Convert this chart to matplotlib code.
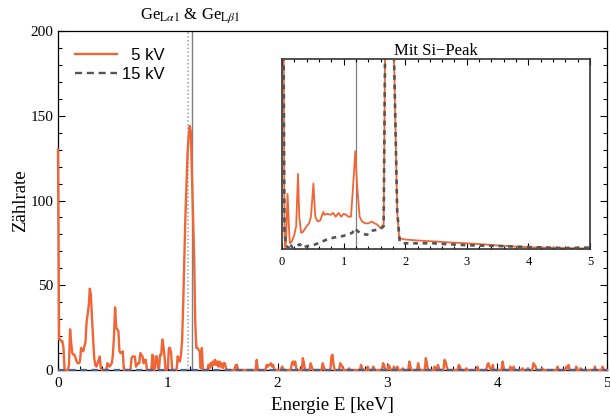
import matplotlib
matplotlib.use("Agg")
import matplotlib.pyplot as plt
from matplotlib.lines import Line2D
from matplotlib.ticker import MultipleLocator, FuncFormatter

plt.rcParams['font.family'] = ['Liberation Serif', 'DejaVu Serif']
plt.rcParams['mathtext.fontset'] = 'stix'

# -----------------------
# Data
# -----------------------
# main spectrum, 5 kV, counts per bin
main_e = [
    0.00, 0.01, 0.02, 0.03, 0.04, 0.05, 0.06, 0.07, 0.08, 0.09,
    0.10, 0.11, 0.12, 0.13, 0.14, 0.15, 0.16, 0.17, 0.18, 0.19,
    0.20, 0.21, 0.22, 0.23, 0.24, 0.25, 0.26, 0.27, 0.28, 0.29,
    0.30, 0.31, 0.32, 0.33, 0.34, 0.35, 0.36, 0.37, 0.38, 0.39,
    0.40, 0.44, 0.45, 0.46, 0.47, 0.48, 0.49, 0.50, 0.51, 0.52,
    0.53, 0.54, 0.55, 0.56, 0.57, 0.58, 0.59, 0.60, 0.66, 0.67,
    0.68, 0.69, 0.70, 0.71, 0.72, 0.73, 0.74, 0.75, 0.76, 0.77,
    0.78, 0.79, 0.80, 0.81, 0.85, 0.86, 0.87, 0.88, 0.89, 0.90,
    0.91, 0.92, 0.93, 0.94, 0.95, 0.96, 0.97, 0.98, 0.99, 1.00,
    1.01, 1.02, 1.03, 1.04, 1.08, 1.09, 1.10, 1.11, 1.12, 1.13,
    1.14, 1.15, 1.16, 1.17, 1.18, 1.19, 1.20, 1.21, 1.22, 1.23,
    1.24, 1.25, 1.26, 1.27, 1.28, 1.29, 1.30, 1.31, 1.32, 1.36,
    1.37, 1.38, 1.39, 1.40, 1.41, 1.42, 1.43, 1.44, 1.45, 1.46,
    1.47, 1.48, 1.49, 1.50, 1.51, 1.52, 1.53, 1.54, 1.61, 1.62,
    1.63, 1.64, 1.80, 1.81, 1.82, 1.89, 1.90, 1.91, 1.92, 1.93,
    1.94, 1.95, 1.96, 1.97, 2.03, 2.04, 2.05, 2.06, 2.12, 2.13,
    2.14, 2.15, 2.16, 2.17, 2.18, 2.22, 2.23, 2.24, 2.25, 2.29,
    2.30, 2.31, 2.32, 2.40, 2.41, 2.42, 2.43, 2.48, 2.49, 2.50,
    2.51, 2.52, 2.56, 2.57, 2.58, 2.59, 2.60, 2.64, 2.65, 2.66,
    2.75, 2.76, 2.77, 2.78, 2.81, 2.82, 2.83, 2.86, 2.87, 2.88,
    2.89, 2.95, 2.96, 2.97, 2.98, 3.00, 3.01, 3.02, 3.03, 3.05,
    3.06, 3.07, 3.08, 3.09, 3.10, 3.13, 3.14, 3.15, 3.19, 3.20,
    3.21, 3.22, 3.27, 3.28, 3.29, 3.30, 3.34, 3.35, 3.36, 3.37,
    3.42, 3.43, 3.44, 3.45, 3.46, 3.47, 3.48, 3.51, 3.52, 3.53,
    3.54, 3.55, 3.64, 3.65, 3.66, 3.67, 3.71, 3.72, 3.73, 3.81,
    3.82, 3.83, 3.90, 3.91, 3.92, 3.93, 3.94, 3.95, 3.96, 3.97,
    4.04, 4.05, 4.06, 4.07, 4.11, 4.12, 4.13, 4.14, 4.15, 4.16,
    4.22, 4.23, 4.24, 4.27, 4.28, 4.29, 4.32, 4.33, 4.34, 4.35,
    4.36, 4.40, 4.41, 4.42, 4.54, 4.55, 4.56, 4.62, 4.63, 4.64,
    4.65, 4.66, 4.71, 4.72, 4.73, 4.75, 4.76, 4.77, 4.88, 4.89,
    4.90, 4.95, 4.96, 4.97, 5.00,
]
main_5kv = [
    130, 18, 18, 17, 17, 13, 0, 0, 0, 0,
    3, 24, 16, 10, 9, 9, 7, 5, 4, 4,
    5, 13, 12, 11, 14, 16, 28, 33, 38, 48,
    44, 30, 18, 7, 3, 2, 4, 6, 8, 1,
    0, 0, 4, 3, 2, 3, 4, 9, 20, 37,
    25, 24, 23, 11, 10, 10, 11, 0, 0, 7,
    8, 8, 8, 2, 3, 4, 4, 10, 9, 8,
    4, 6, 6, 0, 0, 9, 0, 0, 8, 8,
    1, 1, 9, 9, 18, 14, 8, 0, 0, 1,
    13, 13, 10, 0, 0, 8, 6, 5, 9, 17,
    38, 65, 90, 110, 128, 138, 144, 140, 115, 90,
    66, 28, 13, 13, 12, 11, 1, 13, 0, 0,
    3, 1, 4, 2, 5, 3, 6, 3, 5, 2,
    5, 2, 4, 1, 4, 4, 1, 0, 0, 3,
    3, 0, 0, 6, 0, 0, 3, 2, 3, 3,
    4, 2, 3, 0, 0, 2, 1, 0, 0, 4,
    5, 3, 5, 1, 0, 0, 7, 4, 0, 0,
    4, 2, 0, 0, 4, 2, 0, 0, 8, 9,
    3, 0, 0, 4, 3, 2, 0, 0, 1, 0,
    0, 3, 1, 0, 0, 2, 0, 0, 2, 1,
    0, 0, 4, 3, 0, 0, 3, 2, 0, 0,
    2, 0, 0, 2, 0, 0, 1, 0, 0, 5,
    2, 0, 0, 4, 1, 0, 0, 7, 4, 0,
    0, 2, 0, 0, 3, 1, 0, 0, 6, 5,
    2, 0, 0, 3, 2, 0, 0, 1, 0, 0,
    2, 0, 0, 3, 4, 2, 0, 0, 3, 0,
    0, 5, 1, 0, 0, 2, 0, 0, 2, 0,
    0, 1, 0, 0, 1, 0, 0, 4, 3, 2,
    0, 0, 1, 0, 0, 2, 0, 0, 2, 1,
    3, 0, 0, 2, 0, 0, 1, 0, 0, 2,
    0, 0, 2, 0, 0,
]
assert len(main_e) == len(main_5kv)

# 15 kV in the main panel lies on zero
main_15kv_e = [0.0, 5.0]
main_15kv = [0, 0]

# inset "Mit Si-Peak" (arbitrary count scale, Si peak clipped)
inset_e_5kv = [
    0.00, 0.02, 0.04, 0.05, 0.065, 0.09, 0.12, 0.13, 0.16, 0.20,
    0.23, 0.26, 0.28, 0.31, 0.34, 0.40, 0.44, 0.47, 0.51, 0.54,
    0.58, 0.62, 0.67, 0.69, 0.73, 0.79, 0.83, 0.87, 0.92, 0.96,
    1.00, 1.04, 1.08, 1.12, 1.15, 1.19, 1.22, 1.26, 1.30, 1.35,
    1.40, 1.46, 1.50, 1.54, 1.60, 1.65, 1.68, 1.72, 1.76, 1.80,
    1.87, 1.90, 1.92, 2.00, 2.20, 2.45, 2.70, 3.00, 3.25, 3.54,
    3.80, 4.08, 4.35, 4.62, 5.00,
]
inset_5kv = [
    400, 300, 20, 2, 6, 58, 13, 6, 8, 15,
    24, 79, 34, 17, 18, 24, 27, 34, 69, 34,
    29, 30, 39, 36, 37, 36, 38, 34, 38, 34,
    37, 36, 34, 34, 62, 103, 66, 34, 29, 27,
    27, 29, 27, 26, 22, 26, 260, 900, 900, 260,
    40, 14, 11, 10, 9, 8, 7, 6, 5, 3.5,
    2.5, 1.7, 1.3, 1.0, 0.5,
]
inset_e_15kv = [
    0.00, 0.02, 0.04, 0.065, 0.10, 0.13, 0.17, 0.23, 0.29, 0.34,
    0.40, 0.51, 0.62, 0.73, 0.84, 0.95, 1.06, 1.14, 1.19, 1.22,
    1.30, 1.38, 1.44, 1.52, 1.60, 1.65, 1.68, 1.72, 1.76, 1.80,
    1.87, 1.91, 1.97, 2.20, 2.45, 2.70, 3.00, 3.30, 3.60, 4.00,
    4.30, 4.60, 5.00,
]
inset_15kv = [
    400, 300, 20, 4, 1, 6, 1, 3, 5, 1,
    3, 4, 7, 10, 12, 13, 15, 17, 22, 19,
    16, 15, 19, 20, 21, 24, 260, 900, 900, 260,
    40, 8, 6, 6, 6, 5, 4, 3.5, 3, 2,
    1.5, 1, 1.5,
]

ge_la1 = 1.188
ge_lb1 = 1.218

orange = '#EF6535'
dark = '#555555'

# -----------------------
# Plot
# -----------------------
fig = plt.figure(figsize=(6.1, 4.17), dpi=100)
ax = fig.add_axes([58 / 610, 47 / 417, 549 / 610, 339 / 417])

ax.axvline(ge_la1, color='#a0a0a0', linestyle=(0, (1, 1.5)), linewidth=1.1, zorder=1)
ax.axvline(ge_lb1, color='#808080', linewidth=1.0, zorder=1)

ax.plot(main_e, main_5kv, color=orange, linewidth=1.7, zorder=3, clip_on=False)
ax.plot(main_15kv_e, main_15kv, color='#4a6290', linestyle=(0, (3, 2)),
        linewidth=1.6, zorder=4, clip_on=False)

ax.set_xlim(0, 5)
ax.set_ylim(0, 200)
ax.xaxis.set_major_locator(MultipleLocator(1))
ax.xaxis.set_minor_locator(MultipleLocator(0.2))
ax.yaxis.set_major_locator(MultipleLocator(50))
ax.yaxis.set_minor_locator(MultipleLocator(10))
ax.tick_params(which='both', direction='in', right=True, top=False,
               labelsize=11, width=0.8)
ax.tick_params(axis='x', pad=5)
ax.tick_params(which='major', length=5)
ax.tick_params(which='minor', length=3)
ax.xaxis.set_major_formatter(FuncFormatter(lambda v, p: f"{v:g}"))
for s in ax.spines.values():
    s.set_linewidth(0.9)

ax.set_xlabel("Energie E [keV]", fontsize=13.5, labelpad=5)
ax.set_ylabel("Zählrate", fontsize=13.5, labelpad=1)

ax.annotate(r"Ge$_{\mathrm{L}\alpha1}$ & Ge$_{\mathrm{L}\beta1}$",
            xy=(1.2, 1.0), xycoords=('data', 'axes fraction'),
            xytext=(0, 4), textcoords='offset points',
            ha='center', va='bottom', fontsize=12)

handles = [Line2D([], [], color=orange, linewidth=1.7),
           Line2D([], [], color=dark, linestyle=(0, (3, 2)), linewidth=1.7)]
ax.legend(handles, ["  5 kV", "15 kV"], loc='upper left',
          bbox_to_anchor=(0.031, 0.95), frameon=False, borderpad=0,
          borderaxespad=0, handlelength=2.5, handletextpad=0.3,
          labelspacing=0.25, prop={'family': 'Liberation Sans', 'size': 12})

# inset
ins = fig.add_axes([282 / 610, 168 / 417, 308 / 610, 190 / 417])
ins.set_facecolor('white')
ins.set_zorder(5)
ins.axvline(1.2, color='#808080', linewidth=0.9, zorder=1)
ins.plot(inset_e_5kv, inset_5kv, color=orange, linewidth=1.3, zorder=2)
ins.plot(inset_e_15kv, inset_15kv, color=dark, linestyle=(0, (1.8, 1.8)),
         linewidth=1.9, zorder=3)
ins.set_xlim(0, 5)
ins.set_ylim(0, 200)
ins.set_yticks([])
ins.xaxis.set_major_locator(MultipleLocator(1))
ins.xaxis.set_minor_locator(MultipleLocator(0.2))
ins.xaxis.set_major_formatter(FuncFormatter(lambda v, p: f"{v:g}"))
ins.tick_params(which='both', direction='in', top=True, labelsize=9, width=0.8, pad=5)
ins.tick_params(which='major', length=4)
ins.tick_params(which='minor', length=2.5)
for s in ins.spines.values():
    s.set_linewidth(1.2)
    s.set_color('#333333')
ins.set_title("Mit Si\u2212Peak", fontsize=12, pad=3)

plt.savefig("out.png", dpi=100)
